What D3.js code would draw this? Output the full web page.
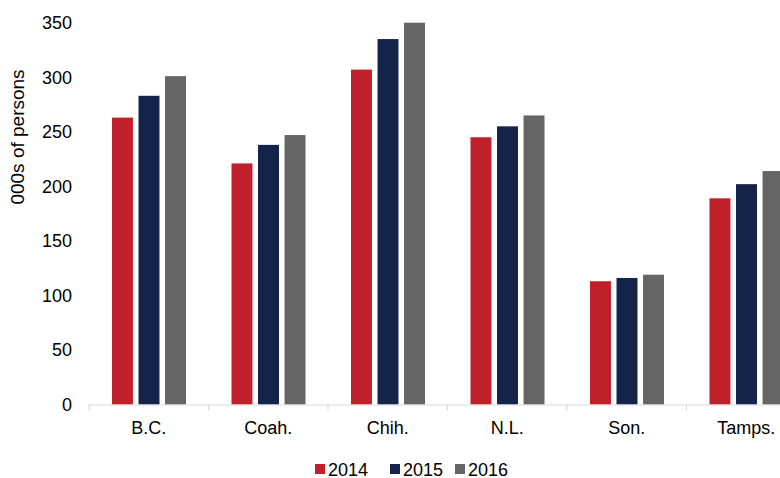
<!DOCTYPE html>
<html>
<head>
<meta charset="utf-8">
<script src="https://cdn.jsdelivr.net/npm/d3@7/dist/d3.min.js"></script>
<style>
  html, body { margin: 0; padding: 0; background: #fff; }
  svg { display: block; font-family: "Liberation Sans", Arial, sans-serif; }
</style>
</head>
<body>
<svg id="chart" width="780" height="478"></svg>
<script>
// Mexican border states, thousands of persons
const states = ["B.C.", "Coah.", "Chih.", "N.L.", "Son.", "Tamps."];
const years = ["2014", "2015", "2016"];
const values2014 = [263, 221, 307, 245, 113, 189];
const values2015 = [283, 238, 335, 255, 116, 202];
const values2016 = [301, 247, 350, 265, 119, 214];
const yTicks = [0, 50, 100, 150, 200, 250, 300, 350];
const colors = ["#C0202A", "#14234A", "#646564"];

const seriesByYear = [values2014, values2015, values2016];
const rows = states.map((s, i) => ({ state: s, vals: seriesByYear.map(v => v[i]) }));

const svg = d3.select("#chart");
const plotLeft = 89, plotRight = 806, plotTop = 22.7, plotBottom = 404.5;
const fontFamily = "'Liberation Sans', Arial, sans-serif";

const x0 = d3.scaleBand().domain(states).range([plotLeft, plotRight]).paddingInner(0).paddingOuter(0);
const x1 = d3.scaleBand().domain(years).range([23, 23 + 74]).paddingInner(0.21).paddingOuter(0);
const y = d3.scaleLinear().domain([0, 350]).range([plotBottom, plotTop]);

// bars
const groups = svg.append("g").selectAll("g")
  .data(rows).join("g")
  .attr("transform", d => `translate(${x0(d.state)},0)`);

groups.selectAll("rect")
  .data(d => d.vals.map((v, k) => ({ year: years[k], value: v, k })))
  .join("rect")
  .attr("x", d => x1(d.year))
  .attr("width", x1.bandwidth())
  .attr("y", d => y(d.value))
  .attr("height", d => y(0) - y(d.value))
  .attr("fill", d => colors[d.k]);

// category axis
const xAxis = svg.append("g")
  .attr("transform", `translate(0,${plotBottom})`)
  .call(d3.axisBottom(x0).tickSize(0).tickPadding(17));
xAxis.select(".domain").attr("stroke", "#d9d9d9").attr("stroke-width", 1.2);
xAxis.selectAll("text").attr("font-size", 18).attr("fill", "#000")
  .attr("font-family", fontFamily);
// band dividers
xAxis.selectAll("line.div")
  .data(states).join("line")
  .attr("class", "div")
  .attr("x1", d => x0(d)).attr("x2", d => x0(d))
  .attr("y1", 0).attr("y2", 6)
  .attr("stroke", "#d9d9d9").attr("stroke-width", 1.2);

// value axis
const yAxis = svg.append("g")
  .attr("transform", `translate(${plotLeft},0)`)
  .call(d3.axisLeft(y).tickValues(yTicks).tickSize(0).tickPadding(17));
yAxis.select(".domain").remove();
yAxis.selectAll("text").attr("font-size", 18).attr("fill", "#000")
  .attr("font-family", fontFamily);

svg.append("text")
  .attr("transform", "translate(24,137) rotate(-90)")
  .attr("text-anchor", "middle")
  .attr("font-size", 19)
  .attr("fill", "#000")
  .text("000s of persons");

// legend
const legendX = [315, 390, 455];
const legend = svg.append("g").selectAll("g")
  .data(years).join("g")
  .attr("transform", (d, i) => `translate(${legendX[i]},469)`);
legend.append("rect")
  .attr("x", 0).attr("y", -5).attr("width", 10).attr("height", 10)
  .attr("fill", (d, i) => colors[i]);
legend.append("text")
  .attr("x", 13).attr("y", 6.5)
  .attr("font-size", 18)
  .attr("fill", "#000")
  .text(d => d);
</script>
</body>
</html>
